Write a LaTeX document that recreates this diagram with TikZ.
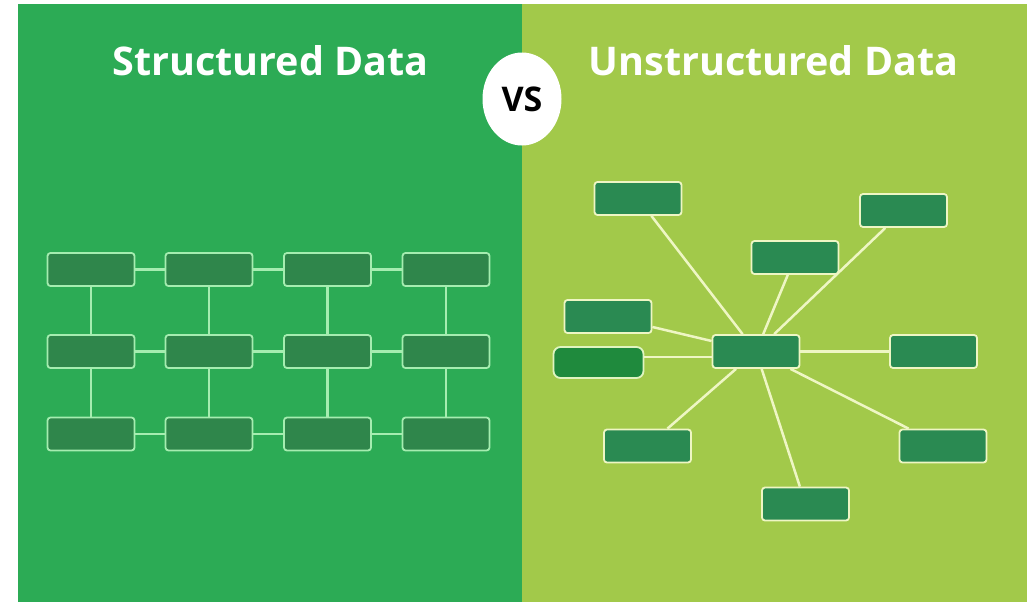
\documentclass[tikz,border=0pt]{standalone}
\usepackage{fontspec}
\setmainfont{Open Sans}
\usetikzlibrary{shapes.geometric}

\definecolor{leftgreen}{HTML}{2CAB55}
\definecolor{rightlime}{HTML}{A2C94A}
\definecolor{cellfill}{HTML}{2F864B}
\definecolor{blobfill}{HTML}{2A8A52}
\definecolor{oddfill}{HTML}{1F8A3D}
\definecolor{gridline}{HTML}{A5EDB0}
\definecolor{webline}{HTML}{EEF6C4}

\tikzset{
	cell/.style={
			draw=gridline, fill=cellfill, line width=1.8pt, rounded corners=3pt,
			minimum width=87pt, minimum height=33pt, inner sep=0pt
		},
	blob/.style={cell, draw=webline, fill=blobfill},
	link/.style={draw=gridline, line width=2.5pt},
	spoke/.style={draw=webline, line width=2.5pt},
	title/.style={text=white, font=\bfseries\fontsize{39.5}{46}\selectfont}
}

\begin{document}
\begin{tikzpicture}[x=1pt, y=-1pt]
        \useasboundingbox (0,0) rectangle (1027,602);

        % Two halves
        \fill[leftgreen] (18,4) rectangle (522,602);
        \fill[rightlime] (522,4) rectangle (1027,602);

        % Headings
        \node[title] (stitle) at (270.5,61) {Structured Data};
        \node[title] (utitle) at (773.5,61) {Unstructured Data};
        \node[ellipse, fill=white, minimum width=79pt, minimum height=93pt, inner sep=0pt,
              font=\bfseries\fontsize{34}{38}\selectfont] (vs) at (522,99) {VS};

        % Table grid: 3 rows x 4 columns
        \foreach \c [count=\i] in {91,209,327.5,446}
            \foreach \r [count=\j] in {269.5,351.5,434}
                \node[cell] (g-\j-\i) at (\c,\r) {};
        \foreach \j in {1,2,3}
            \foreach \i/\k in {1/2,2/3,3/4}
                \draw[link] (g-\j-\i) -- (g-\j-\k);
        \foreach \i in {1,...,4}
            \foreach \j/\k in {1/2,2/3}
                \draw[link] (g-\j-\i) -- (g-\k-\i);

        % Scattered boxes round a hub
        \node[blob] (w1) at (638,198.5) {};
        \node[blob] (w2) at (903.5,210.5) {};
        \node[blob] (w3) at (795,257.5) {};
        \node[blob] (w4) at (608,316.5) {};
        \node[blob] (w7) at (933.5,351.5) {};
        \node[blob] (w8) at (647.5,446) {};
        \node[blob] (w9) at (943,446) {};
        \node[blob] (w10) at (805.5,504) {};
        \node[blob, fill=oddfill, draw=webline!80!gridline, rounded corners=7pt,
              minimum width=90pt, minimum height=31pt] (w5) at (598.5,362.5) {};
        \node[blob] (hub) at (756,351.5) {};
        \foreach \n in {w1,w2,w3,w4,w7,w8,w9,w10}
            \draw[spoke] (hub) -- (\n);
        % this one runs level into the hub
        \draw[spoke] (w5.east |- 0,357) -- (hub.west |- 0,357);
    \end{tikzpicture}
\end{document}
